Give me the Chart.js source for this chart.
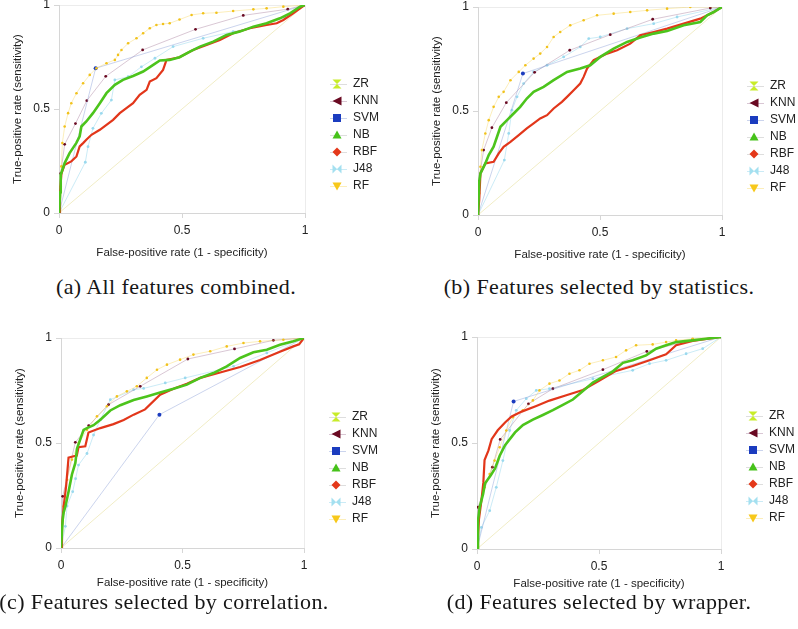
<!DOCTYPE html>
<html><head><meta charset="utf-8">
<script src="https://cdn.jsdelivr.net/npm/chart.js@4"></script>
<style>
html,body{margin:0;padding:0;background:#fff;width:798px;height:629px;overflow:hidden;position:relative;}
canvas.panel{position:absolute;}
.cap{position:absolute;font-family:"Liberation Serif","Times New Roman",serif;font-size:22px;letter-spacing:0.4px;white-space:nowrap;transform:translate(-50%,-50%);color:#161616;}
</style></head><body>
<script>
// ---------- data ----------
const categories = ['ZR', 'KNN', 'SVM', 'NB', 'RBF', 'J48', 'RF'];
const tickValues = [0, 0.5, 1];
const tickLabels = ['0', '0.5', '1'];
const captions = ['(a) All features combined.', '(b) Features selected by statistics.',
                  '(c) Features selected by correlation.', '(d) Features selected by wrapper.'];
const xTitle = 'False-positive rate (1 - specificity)';
const yTitle = 'True-positive rate (sensitivity)';

const zrLine = [[0,0],[1,1]];

// (a) all features
const knnA = [[0,0],[0.007,0.19],[0.023,0.33],[0.067,0.43],[0.113,0.54],[0.19,0.657],[0.34,0.784],[0.555,0.883],[0.749,0.95],[0.93,0.98],[1,1]];
const svmA = [[0,0],[0.149,0.696],[1,1]];
const nbA = [[0,0],[0.005,0.1],[0.007,0.184],[0.023,0.24],[0.043,0.288],[0.07,0.336],[0.084,0.368],[0.091,0.416],[0.111,0.44],[0.138,0.48],[0.166,0.528],[0.193,0.576],[0.227,0.616],[0.26,0.64],[0.301,0.659],[0.342,0.68],[0.383,0.712],[0.41,0.733],[0.45,0.736],[0.49,0.749],[0.532,0.776],[0.573,0.8],[0.627,0.824],[0.681,0.856],[0.735,0.872],[0.79,0.896],[0.844,0.912],[0.898,0.936],[0.939,0.96],[0.98,0.992],[1,1]];
const rbfA = [[0,0],[0.004,0.1],[0.01,0.19],[0.023,0.232],[0.05,0.248],[0.071,0.272],[0.084,0.32],[0.098,0.336],[0.111,0.352],[0.132,0.376],[0.166,0.4],[0.193,0.424],[0.22,0.448],[0.247,0.48],[0.274,0.504],[0.301,0.528],[0.328,0.568],[0.356,0.592],[0.369,0.632],[0.396,0.648],[0.423,0.688],[0.437,0.736],[0.49,0.749],[0.545,0.784],[0.6,0.808],[0.654,0.832],[0.708,0.864],[0.776,0.888],[0.844,0.904],[0.885,0.912],[0.912,0.928],[0.952,0.96],[0.98,0.984],[1,1]];
const j48A = [[0,0],[0.107,0.244],[0.118,0.319],[0.138,0.407],[0.172,0.479],[0.213,0.543],[0.227,0.64],[0.281,0.655],[0.335,0.703],[0.39,0.744],[0.464,0.8],[0.586,0.84],[0.708,0.872],[0.82,0.9],[0.92,0.94],[1,1]];
const rfA = [[0,0],[0.007,0.128],[0.0095,0.224],[0.0136,0.336],[0.023,0.416],[0.037,0.48],[0.05,0.528],[0.071,0.576],[0.098,0.624],[0.125,0.664],[0.152,0.696],[0.193,0.72],[0.227,0.736],[0.24,0.76],[0.254,0.784],[0.281,0.816],[0.315,0.84],[0.342,0.864],[0.369,0.888],[0.396,0.904],[0.423,0.909],[0.45,0.912],[0.49,0.93],[0.539,0.952],[0.586,0.96],[0.64,0.963],[0.708,0.971],[0.79,0.979],[0.844,0.984],[0.912,0.992],[1,1]];

// (b) statistics
const knnB = [[0,0],[0.003,0.16],[0.023,0.312],[0.057,0.42],[0.116,0.54],[0.232,0.686],[0.376,0.792],[0.542,0.867],[0.716,0.941],[0.952,0.995],[1,1]];
const svmB = [[0,0],[0.184,0.68],[1,1]];
const nbB = [[0,0],[0.005,0.16],[0.01,0.2],[0.03,0.248],[0.044,0.288],[0.064,0.328],[0.078,0.376],[0.092,0.424],[0.119,0.456],[0.146,0.488],[0.173,0.52],[0.2,0.56],[0.228,0.592],[0.269,0.616],[0.31,0.648],[0.365,0.688],[0.419,0.704],[0.46,0.72],[0.501,0.76],[0.556,0.8],[0.611,0.832],[0.665,0.853],[0.72,0.872],[0.775,0.885],[0.843,0.912],[0.911,0.928],[0.939,0.96],[0.966,0.976],[1,1]];
const rbfB = [[0,0],[0.005,0.072],[0.01,0.2],[0.03,0.248],[0.064,0.256],[0.085,0.296],[0.105,0.328],[0.133,0.352],[0.167,0.384],[0.2,0.416],[0.228,0.44],[0.255,0.464],[0.283,0.48],[0.31,0.512],[0.344,0.544],[0.365,0.568],[0.392,0.6],[0.419,0.632],[0.433,0.664],[0.447,0.704],[0.474,0.744],[0.529,0.776],[0.57,0.792],[0.624,0.824],[0.665,0.864],[0.72,0.88],[0.775,0.896],[0.843,0.92],[0.911,0.944],[0.966,0.976],[1,1]];
const j48B = [[0,0],[0.108,0.264],[0.126,0.392],[0.139,0.504],[0.16,0.568],[0.187,0.632],[0.228,0.688],[0.283,0.72],[0.351,0.76],[0.419,0.808],[0.454,0.848],[0.501,0.856],[0.611,0.896],[0.72,0.92],[0.816,0.952],[1,1]];
const rfB = [[0,0],[0.005,0.104],[0.01,0.232],[0.016,0.312],[0.03,0.392],[0.044,0.456],[0.064,0.52],[0.085,0.568],[0.105,0.592],[0.133,0.648],[0.167,0.688],[0.194,0.72],[0.228,0.752],[0.255,0.776],[0.283,0.808],[0.31,0.856],[0.337,0.88],[0.378,0.912],[0.433,0.936],[0.488,0.96],[0.556,0.968],[0.624,0.976],[0.693,0.984],[0.775,0.992],[0.87,1],[1,1]];

// (c) correlation
const knnC = [[0,0],[0.007,0.246],[0.059,0.503],[0.114,0.583],[0.196,0.683],[0.326,0.77],[0.522,0.9],[0.714,0.948],[0.874,0.989],[1,1]];
const svmC = [[0,0],[0.405,0.635],[1,1]];
const nbC = [[0,0],[0.007,0.135],[0.011,0.17],[0.018,0.198],[0.031,0.268],[0.045,0.35],[0.059,0.405],[0.066,0.474],[0.086,0.54],[0.093,0.562],[0.107,0.571],[0.134,0.585],[0.162,0.611],[0.203,0.655],[0.244,0.68],[0.299,0.705],[0.353,0.722],[0.408,0.74],[0.463,0.758],[0.518,0.778],[0.573,0.81],[0.627,0.833],[0.682,0.865],[0.737,0.905],[0.792,0.932],[0.847,0.944],[0.901,0.968],[0.956,0.984],[1,1]];
const rbfC = [[0,0],[0.004,0.103],[0.011,0.198],[0.021,0.294],[0.031,0.43],[0.052,0.437],[0.065,0.44],[0.072,0.48],[0.1,0.484],[0.113,0.55],[0.162,0.571],[0.216,0.59],[0.258,0.61],[0.299,0.635],[0.346,0.66],[0.408,0.73],[0.463,0.758],[0.518,0.782],[0.573,0.81],[0.655,0.836],[0.737,0.862],[0.819,0.895],[0.901,0.935],[0.956,0.96],[0.98,0.97],[1,1]];
const j48C = [[0,0],[0.018,0.103],[0.025,0.2],[0.048,0.268],[0.06,0.33],[0.072,0.395],[0.107,0.45],[0.134,0.538],[0.162,0.611],[0.203,0.706],[0.299,0.754],[0.34,0.76],[0.429,0.786],[0.511,0.81],[0.71,0.865],[0.847,0.929],[1,1]];
const rfC = [[0,0],[0.011,0.198],[0.025,0.325],[0.045,0.421],[0.073,0.5],[0.107,0.563],[0.148,0.627],[0.189,0.675],[0.23,0.722],[0.271,0.746],[0.312,0.77],[0.353,0.81],[0.395,0.849],[0.436,0.873],[0.49,0.897],[0.545,0.921],[0.614,0.937],[0.682,0.96],[0.751,0.976],[0.819,0.984],[0.915,0.992],[1,1]];

// (d) wrapper
const knnD = [[0,0],[0.004,0.197],[0.063,0.386],[0.095,0.517],[0.211,0.685],[0.311,0.756],[0.516,0.846],[0.696,0.932],[0.884,0.987],[1,1]];
const svmD = [[0,0],[0.15,0.696],[1,1]];
const nbD = [[0,0],[0.004,0.134],[0.011,0.197],[0.025,0.26],[0.033,0.31],[0.055,0.345],[0.074,0.38],[0.093,0.44],[0.115,0.49],[0.156,0.55],[0.188,0.585],[0.229,0.61],[0.27,0.632],[0.311,0.655],[0.352,0.68],[0.393,0.705],[0.434,0.745],[0.475,0.785],[0.516,0.812],[0.557,0.838],[0.598,0.878],[0.638,0.89],[0.693,0.913],[0.734,0.945],[0.775,0.961],[0.816,0.976],[0.884,0.984],[0.939,0.992],[1,1]];
const rbfD = [[0,0],[0.004,0.055],[0.008,0.14],[0.018,0.228],[0.026,0.313],[0.031,0.42],[0.047,0.465],[0.06,0.518],[0.085,0.56],[0.115,0.597],[0.142,0.625],[0.183,0.648],[0.243,0.675],[0.297,0.7],[0.366,0.725],[0.434,0.75],[0.502,0.795],[0.57,0.84],[0.638,0.863],[0.707,0.89],[0.775,0.918],[0.816,0.961],[0.884,0.981],[1,1]];
const j48D = [[0,0],[0.018,0.102],[0.052,0.181],[0.079,0.291],[0.106,0.417],[0.134,0.559],[0.161,0.654],[0.202,0.709],[0.243,0.748],[0.297,0.756],[0.475,0.803],[0.638,0.843],[0.707,0.874],[0.775,0.89],[0.857,0.921],[0.925,0.945],[1,1]];
const rfD = [[0,0],[0.011,0.197],[0.031,0.291],[0.052,0.354],[0.072,0.417],[0.093,0.48],[0.12,0.559],[0.147,0.622],[0.188,0.654],[0.229,0.701],[0.256,0.748],[0.297,0.78],[0.338,0.795],[0.379,0.827],[0.42,0.843],[0.461,0.874],[0.516,0.89],[0.57,0.906],[0.611,0.937],[0.652,0.961],[0.72,0.965],[0.775,0.976],[0.816,0.984],[0.884,0.992],[1,1]];

const panelSeries = [
  [zrLine, knnA, svmA, nbA, rbfA, j48A, rfA],
  [zrLine, knnB, svmB, nbB, rbfB, j48B, rfB],
  [zrLine, knnC, svmC, nbC, rbfC, j48C, rfC],
  [zrLine, knnD, svmD, nbD, rbfD, j48D, rfD]
];

// ---------- styles / layout ----------
Chart.defaults.font.family = "'Liberation Sans', Arial, sans-serif";
Chart.defaults.color = '#222';

const W_Y = 59, LEGEND_W = 76, PAD_TOP = 14;
const geom = [
  {left: 0,   top: 5,   pw: 246, ph: 208, tOff: 40, capX: 176, capY: 287},
  {left: 419, top: 7,   pw: 244, ph: 208, tOff: 40, capX: 599, capY: 287},
  {left: 2,   top: 338, pw: 243, ph: 210, tOff: 35, capX: 164, capY: 602},
  {left: 418, top: 337, pw: 244, ph: 212, tOff: 35, capX: 599, capY: 602}
];

const styles = [
  {marker: 'hourglass', mk: '#c8ec2a', line: '#f1edc6', lw: 1,   pr: 0,   pc: '#c8ec2a', order: 6},
  {marker: 'triLeft',   mk: '#6a0a22', line: 'rgba(170,130,160,0.45)', lw: 1, pr: 1.4, pc: '#6a0a22', order: 4},
  {marker: 'square',    mk: '#1b3cbf', line: 'rgba(140,160,215,0.45)', lw: 1, pr: 0, pc: '#1b3cbf', order: 3, mid: true},
  {marker: 'triUp',     mk: '#46c21a', line: '#4cc41c', lw: 2.6, pr: 0,   pc: '#4cc41c', order: 0},
  {marker: 'diamond',   mk: '#e4381a', line: '#e2361a', lw: 2.2, pr: 0,   pc: '#e2361a', order: 1},
  {marker: 'bowtie',    mk: '#a4e0f0', line: 'rgba(160,218,238,0.55)', lw: 1, pr: 1.4, pc: '#9ad9ee', order: 5},
  {marker: 'triDown',   mk: '#f7c81a', line: 'rgba(246,205,60,0.35)', lw: 1, pr: 1.3, pc: '#f1c21c', order: 2}
];

function markerImg(kind, color, lineColor) {
  const c = document.createElement('canvas');
  c.width = 37; c.height = 14;
  const g = c.getContext('2d');
  g.strokeStyle = lineColor; g.lineWidth = 1;
  g.beginPath(); g.moveTo(20, 7.5); g.lineTo(37, 7.5); g.stroke();
  g.fillStyle = color;
  const cx = 27, cy = 7, r = 4.5;
  g.beginPath();
  switch (kind) {
    case 'hourglass':
      g.moveTo(cx - r, cy - r); g.lineTo(cx + r, cy - r); g.lineTo(cx, cy);
      g.lineTo(cx + r, cy + r); g.lineTo(cx - r, cy + r); g.lineTo(cx, cy); break;
    case 'triLeft':
      g.moveTo(cx - r, cy); g.lineTo(cx + r, cy - r); g.lineTo(cx + r, cy + r); break;
    case 'square':
      g.rect(cx - 4, cy - 4, 8, 8); break;
    case 'triUp':
      g.moveTo(cx, cy - r); g.lineTo(cx + r, cy + r * 0.8); g.lineTo(cx - r, cy + r * 0.8); break;
    case 'diamond':
      g.moveTo(cx, cy - r); g.lineTo(cx + r, cy); g.lineTo(cx, cy + r); g.lineTo(cx - r, cy); break;
    case 'bowtie':
      g.moveTo(cx - r, cy - r); g.lineTo(cx, cy); g.lineTo(cx - r, cy + r);
      g.moveTo(cx + r, cy - r); g.lineTo(cx, cy); g.lineTo(cx + r, cy + r); break;
    case 'triDown':
      g.moveTo(cx - r, cy - r * 0.8); g.lineTo(cx + r, cy - r * 0.8); g.lineTo(cx, cy + r); break;
  }
  g.closePath(); g.fill();
  return c;
}
const legendImgs = styles.map(s => markerImg(s.marker, s.mk, s.line.startsWith('#') ? 'rgba(200,200,200,0.6)' : s.line));

const legendWidthPlugin = {
  id: 'legendWidth',
  beforeLayout(chart) {
    const lg = chart.legend;
    if (lg && !lg.__patched) {
      const f = lg.fit;
      lg.fit = function () { f.call(this); this.width = LEGEND_W; };
      lg.__patched = true;
    }
  }
};

function axis(isX, g) {
  return {
    type: 'linear', min: 0, max: 1,
    afterBuildTicks: s => { s.ticks = tickValues.map(v => ({value: v})); },
    afterFit: s => { if (isX) s.height = 260 - g.ph; else s.width = W_Y; },
    ticks: {
      font: {size: 12}, color: '#222', padding: isX ? 5 : 4, maxRotation: 0, autoSkip: false,
      callback: v => tickLabels[tickValues.indexOf(v)] ?? String(v)
    },
    grid: {
      color: c => (c.tick && c.tick.value === 0.5) ? 'rgba(0,0,0,0)' : '#ececec',
      tickColor: '#d6d6d6', tickLength: 5, lineWidth: 1
    },
    border: {color: '#d6d6d6'},
    title: {
      display: true, text: isX ? xTitle : yTitle, color: '#222',
      font: {size: 11.5},
      padding: isX ? {top: 0, bottom: (260 - g.ph) - 6.9 - g.tOff} : {top: 11, bottom: 0}
    }
  };
}

geom.forEach((g, pi) => {
  const cv = document.createElement('canvas');
  cv.className = 'panel';
  const CW = W_Y + g.pw + LEGEND_W;
  const CH = PAD_TOP + g.ph + (260 - g.ph);
  cv.width = CW; cv.height = CH;
  cv.style.left = g.left + 'px';
  cv.style.top = (g.top - PAD_TOP) + 'px';
  cv.style.width = CW + 'px'; cv.style.height = CH + 'px';
  document.body.appendChild(cv);

  const datasets = panelSeries[pi].map((arr, i) => {
    const s = styles[i];
    return {
      label: categories[i],
      data: arr.map(([x, y]) => ({x, y})),
      showLine: true,
      borderColor: s.line,
      borderWidth: s.lw,
      backgroundColor: s.pc,
      pointBackgroundColor: s.pc,
      pointBorderWidth: 0,
      pointRadius: s.mid ? (c => c.dataIndex === 1 ? 2 : 0) : s.pr,
      pointHoverRadius: 0,
      order: s.order,
      tension: 0
    };
  });

  new Chart(cv, {
    type: 'scatter',
    data: {datasets},
    plugins: [legendWidthPlugin],
    options: {
      responsive: false, animation: false, events: [],
      layout: {padding: {top: PAD_TOP, left: 0, right: 0, bottom: 0}},
      scales: {x: axis(true, g), y: axis(false, g)},
      plugins: {
        tooltip: {enabled: false},
        legend: {
          position: 'right', align: 'center',
          labels: {
            usePointStyle: true, pointStyleWidth: 37, padding: 5,
            font: {size: 12}, color: '#222',
            generateLabels: chart => chart.data.datasets.map((d, i) => ({
              text: d.label, datasetIndex: i, pointStyle: legendImgs[i],
              fillStyle: styles[i].mk, strokeStyle: styles[i].mk, lineWidth: 0,
              hidden: false, fontColor: '#222'
            }))
          }
        }
      }
    }
  });

  const cap = document.createElement('div');
  cap.className = 'cap';
  cap.textContent = captions[pi];
  cap.style.left = g.capX + 'px';
  cap.style.top = g.capY + 'px';
  document.body.appendChild(cap);
});
</script>
</body></html>
